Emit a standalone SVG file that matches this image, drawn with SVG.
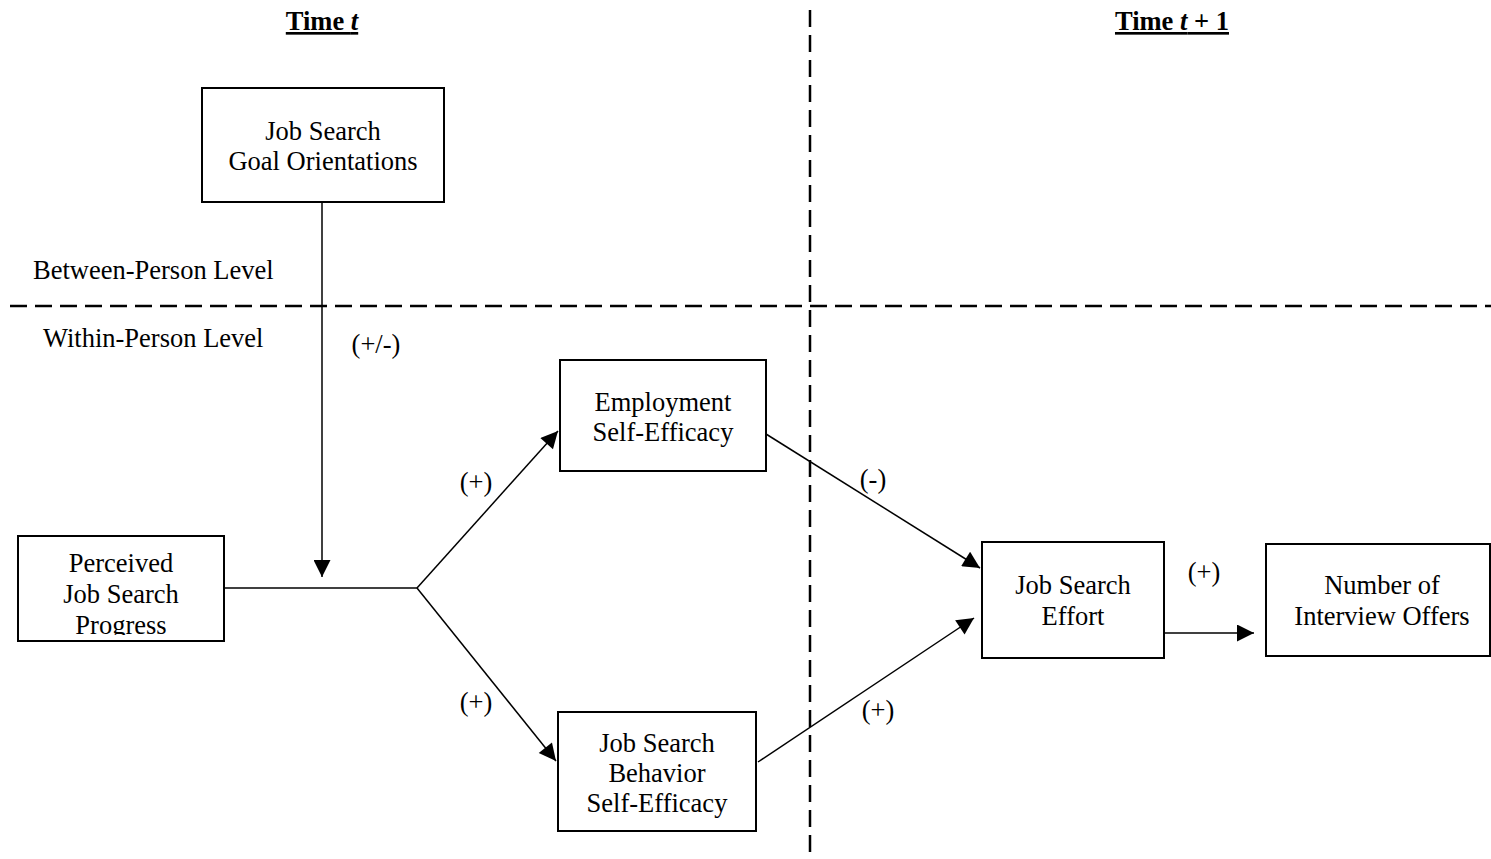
<svg xmlns="http://www.w3.org/2000/svg" width="1491" height="859" viewBox="0 0 1491 859">
<style>
text{font-family:"Liberation Serif","Times New Roman",serif;font-size:26.5px;fill:#000}
.c{text-anchor:middle}
.box{fill:#fff;stroke:#000;stroke-width:2}
.ln{stroke:#000;stroke-width:1.5;fill:none}
.dash{stroke:#000;stroke-width:2.5;stroke-dasharray:17,8;fill:none}
.h{font-weight:bold;text-decoration:underline}
</style>
<defs>
<marker id="ah" viewBox="0 0 10 10" refX="10" refY="5" markerWidth="19" markerHeight="17" markerUnits="userSpaceOnUse" orient="auto"><path d="M0,0 L10,5 L0,10 z" fill="#000"/></marker>
<clipPath id="clipP"><rect x="18" y="536" width="206" height="99"/></clipPath>
</defs>
<g id="dividers">
<line class="dash" x1="810" y1="10" x2="810" y2="859"/>
<line class="dash" x1="10" y1="306" x2="1491" y2="306"/>
</g>
<g id="labels">
<text class="c h" x="322" y="30">Time <tspan font-style="italic">t</tspan></text>
<text class="c h" x="1172" y="30">Time <tspan font-style="italic">t</tspan> + 1</text>
<text x="33" y="279">Between-Person Level</text>
<text x="43" y="347">Within-Person Level</text>
<text class="c" x="376" y="353">(+/-)</text>
<text class="c" x="476" y="491">(+)</text>
<text class="c" x="476" y="711">(+)</text>
<text class="c" x="873" y="488">(-)</text>
<text class="c" x="878" y="719">(+)</text>
<text class="c" x="1204" y="581">(+)</text>
</g>
<g id="connectors">
<line class="ln" x1="322" y1="202" x2="322" y2="577" marker-end="url(#ah)"/>
<polyline class="ln" points="224,588 417,588"/>
<line class="ln" x1="417" y1="588" x2="558" y2="431" marker-end="url(#ah)"/>
<line class="ln" x1="417" y1="588" x2="556" y2="761" marker-end="url(#ah)"/>
<line class="ln" x1="766" y1="434" x2="980" y2="568" marker-end="url(#ah)"/>
<line class="ln" x1="758" y1="762" x2="974" y2="618" marker-end="url(#ah)"/>
<line class="ln" x1="1164" y1="633" x2="1254" y2="633" marker-end="url(#ah)"/>
</g>
<g id="goal">
<rect class="box" x="202" y="88" width="242" height="114"/>
<text class="c" x="323" y="140">Job Search</text>
<text class="c" x="323" y="170">Goal Orientations</text>
</g>
<g id="progress">
<rect class="box" x="18" y="536" width="206" height="105"/>
<g clip-path="url(#clipP)">
<text class="c" x="121" y="572">Perceived</text>
<text class="c" x="121" y="603">Job Search</text>
<text class="c" x="121" y="634">Progress</text>
</g>
</g>
<g id="employment">
<rect class="box" x="560" y="360" width="206" height="111"/>
<text class="c" x="663" y="411">Employment</text>
<text class="c" x="663" y="441">Self-Efficacy</text>
</g>
<g id="behavior">
<rect class="box" x="558" y="712" width="198" height="119"/>
<text class="c" x="657" y="752">Job Search</text>
<text class="c" x="657" y="782">Behavior</text>
<text class="c" x="657" y="812">Self-Efficacy</text>
</g>
<g id="effort">
<rect class="box" x="982" y="542" width="182" height="116"/>
<text class="c" x="1073" y="594">Job Search</text>
<text class="c" x="1073" y="625">Effort</text>
</g>
<g id="offers">
<rect class="box" x="1266" y="544" width="224" height="112"/>
<text class="c" x="1382" y="594">Number of</text>
<text class="c" x="1382" y="625">Interview Offers</text>
</g>
</svg>
